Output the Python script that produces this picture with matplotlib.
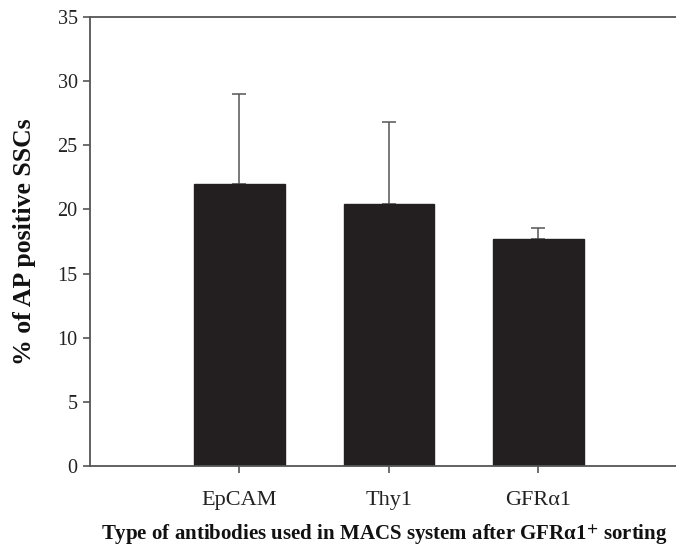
import numpy as np
import matplotlib
matplotlib.use('Agg')
import matplotlib.pyplot as plt

# data
categories = ['EpCAM', 'Thy1', 'GFR\u03b11']
means = [22.0, 20.45, 17.7]
errors = [7.0, 6.35, 0.85]

plt.rcParams['font.family'] = ['Liberation Serif', 'DejaVu Serif']
plt.rcParams['mathtext.fontset'] = 'stix'

fig = plt.figure(figsize=(6.76, 5.49), dpi=100)
ax = fig.add_axes([90/676, 1-466/549, 1-90/676, (466-17)/549])

x = np.arange(len(categories))
ax.bar(x, means, width=0.606, color='#231f20', edgecolor='#231f20', zorder=2)
ax.errorbar(x, means, yerr=[np.zeros(len(errors)), errors], fmt='none',
            ecolor='#555555', elinewidth=1.1, capsize=4.7, capthick=1.1, zorder=1)

ax.set_xlim(-1.0, 2.92)
ax.set_ylim(0, 35)
ax.set_yticks(np.arange(0, 36, 5))
ax.set_xticks(x)
ax.set_xticklabels(categories, fontsize=16)
for s in ['left', 'bottom', 'top']:
    ax.spines[s].set_color('#555555'); ax.spines[s].set_linewidth(1.3)
ax.spines['right'].set_visible(False)
ax.tick_params(direction='out', length=5, width=1.2, color='#555555', labelcolor='#222222')
ax.tick_params(axis='y', labelsize=14.5, pad=4)
ax.tick_params(axis='x', pad=13)

fig.text(25/676, 1-242/549, '% of AP positive SSCs', rotation=90,
         ha='center', va='center', fontsize=18.5, fontweight='bold', color='#111111')
fig.text(384/676, 1-535/549, 'Type of antibodies used in MACS system after GFR\u03b11$^{\\mathbf{+}}$ sorting',
         ha='center', va='center', fontsize=15, fontweight='bold', color='#111111')

fig.savefig('out.png', dpi=100)
